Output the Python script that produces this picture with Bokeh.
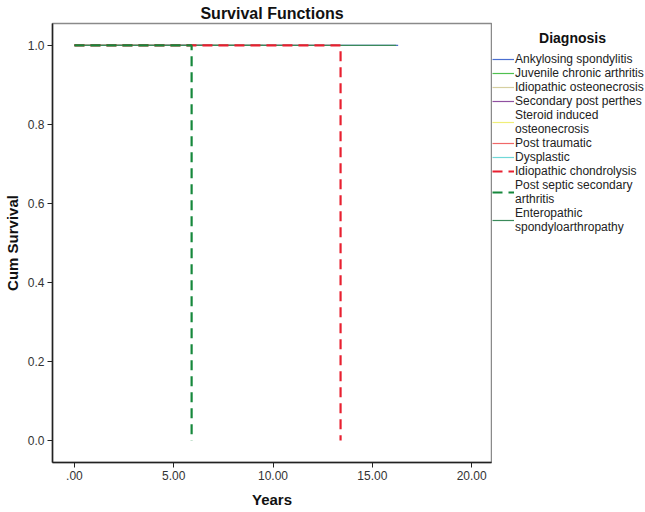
from bokeh.plotting import figure
from bokeh.layouts import row
from bokeh.models import Legend, LegendItem, FixedTicker, Range1d, Label
from bokeh.embed import file_html
from bokeh.resources import INLINE

# ---- data ----
diagnoses = [
    "Ankylosing spondylitis",
    "Juvenile chronic arthritis",
    "Idiopathic osteonecrosis",
    "Secondary post perthes",
    "Steroid induced\nosteonecrosis",
    "Post traumatic",
    "Dysplastic",
    "Idiopathic chondrolysis",
    "Post septic secondary\narthritis",
    "Enteropathic\nspondyloarthropathy",
]
colors = ["#4a6ed0", "#4fc04f", "#d6cfa0", "#9050a0", "#f0ee78",
          "#f06868", "#70d8d8", "#e82030", "#16883c", "#3a8a5a"]
dashes = ["solid"] * 7 + ["10 6", "10 6", "solid"]
widths = [1.2] * 7 + [2.2, 2.2, 1.2]

# step times and cumulative survival per diagnosis
times = [
    [0.0, 16.3],
    [0.0, 9.5],
    [0.0, 8.0],
    [0.0, 7.0],
    [0.0, 4.5],
    [0.0, 13.2],
    [0.0, 11.0],
    [0.0, 13.4, 13.4],
    [0.0, 5.9, 5.9],
    [0.0, 16.2],
]
surv = [
    [1.0, 1.0],
    [1.0, 1.0],
    [1.0, 1.0],
    [1.0, 1.0],
    [1.0, 1.0],
    [1.0, 1.0],
    [1.0, 1.0],
    [1.0, 1.0, 0.0],
    [1.0, 1.0, 0.0],
    [1.0, 1.0],
]

x_ticks = [0, 5, 10, 15, 20]
x_labels = [".00", "5.00", "10.00", "15.00", "20.00"]
y_ticks = [0.0, 0.2, 0.4, 0.6, 0.8, 1.0]
y_labels = ["0.0", "0.2", "0.4", "0.6", "0.8", "1.0"]

FONT = "Liberation Sans"
H = 510
TOP, BOTTOM = 23, 47

p = figure(width=492, height=H, output_backend="svg", toolbar_location=None,
           x_range=Range1d(-1.105, 21.0), y_range=Range1d(-0.0556, 1.0556),
           min_border_left=51, min_border_right=1, min_border_top=TOP,
           min_border_bottom=BOTTOM)
p.title.text = "Survival Functions"
p.title.align = "center"
p.title.text_font = FONT
p.title.text_font_size = "16px"
p.title.text_font_style = "bold"
p.title.text_color = "#111111"
p.title.offset = 0
p.title.standoff = 4

p.xgrid.visible = False
p.ygrid.visible = False
p.outline_line_color = "#8a8a8a"
p.outline_line_width = 1.5
p.background_fill_color = "white"
p.border_fill_color = "white"

for ax in (p.xaxis[0], p.yaxis[0]):
    ax.axis_line_color = "#222222"
    ax.axis_line_width = 1.5
    ax.major_tick_line_color = "#222222"
    ax.major_tick_in = 0
    ax.major_tick_out = 5
    ax.major_label_standoff = 3
    ax.minor_tick_line_color = None
    ax.major_label_text_font = FONT
    ax.major_label_text_font_size = "12px"
    ax.major_label_text_color = "#333333"
    ax.axis_label_text_font = FONT
    ax.axis_label_text_font_size = "15px"
    ax.axis_label_text_font_style = "bold"
    ax.axis_label_text_color = "#111111"

p.xaxis.ticker = FixedTicker(ticks=x_ticks)
p.xaxis.major_label_overrides = {t: l for t, l in zip(x_ticks, x_labels)}
p.yaxis.ticker = FixedTicker(ticks=y_ticks)
p.yaxis.major_label_overrides = {t: l for t, l in zip(y_ticks, y_labels)}
p.xaxis.axis_label = "Years"
p.yaxis.axis_label = "Cum Survival"
p.xaxis.axis_label_standoff = 8
p.yaxis.axis_label_standoff = 4

order = [0, 1, 2, 3, 4, 6, 5, 9, 7, 8]
for i in order:
    p.line(times[i], surv[i], line_color=colors[i], line_width=widths[i],
           line_dash=dashes[i])

# legend panel as a separate figure (frame aligned with the main frame)
lf = figure(width=153, height=H, output_backend="svg", toolbar_location=None,
            x_range=Range1d(0, 1), y_range=Range1d(2, 3),
            min_border_left=0, min_border_right=0, min_border_top=TOP,
            min_border_bottom=BOTTOM)
lf.axis.visible = False
lf.xgrid.visible = False
lf.ygrid.visible = False
lf.outline_line_color = None
lf.border_fill_color = "white"
lf.background_fill_color = "white"

leg_renderers = []
for i in range(len(diagnoses)):
    r = lf.line(times[i], surv[i], line_color=colors[i], line_width=widths[i],
                line_dash=dashes[i])
    leg_renderers.append(r)

items = [LegendItem(label=diagnoses[i], renderers=[leg_renderers[i]])
         for i in range(len(diagnoses))]
legend = Legend(items=items, location=(0, 228))
legend.label_text_font = FONT
legend.label_text_font_size = "12px"
legend.label_text_color = "#222222"
legend.label_text_line_height = 0.8
legend.label_height = 12
legend.label_standoff = 1
legend.glyph_width = 22
legend.glyph_height = 12
legend.spacing = 0
legend.padding = 0
legend.margin = 0
legend.border_line_color = None
legend.background_fill_alpha = 0
lf.add_layout(legend, "center")

frame_h = H - TOP - BOTTOM
lf.add_layout(Label(x=80, y=frame_h - (38 - TOP), x_units="screen", y_units="screen",
                    text="Diagnosis", text_font=FONT, text_font_size="14px",
                    text_font_style="bold", text_color="#111111",
                    text_align="center", text_baseline="middle"))

layout = row(p, lf, spacing=0)
open("out.html", "w").write(file_html(layout, INLINE))
